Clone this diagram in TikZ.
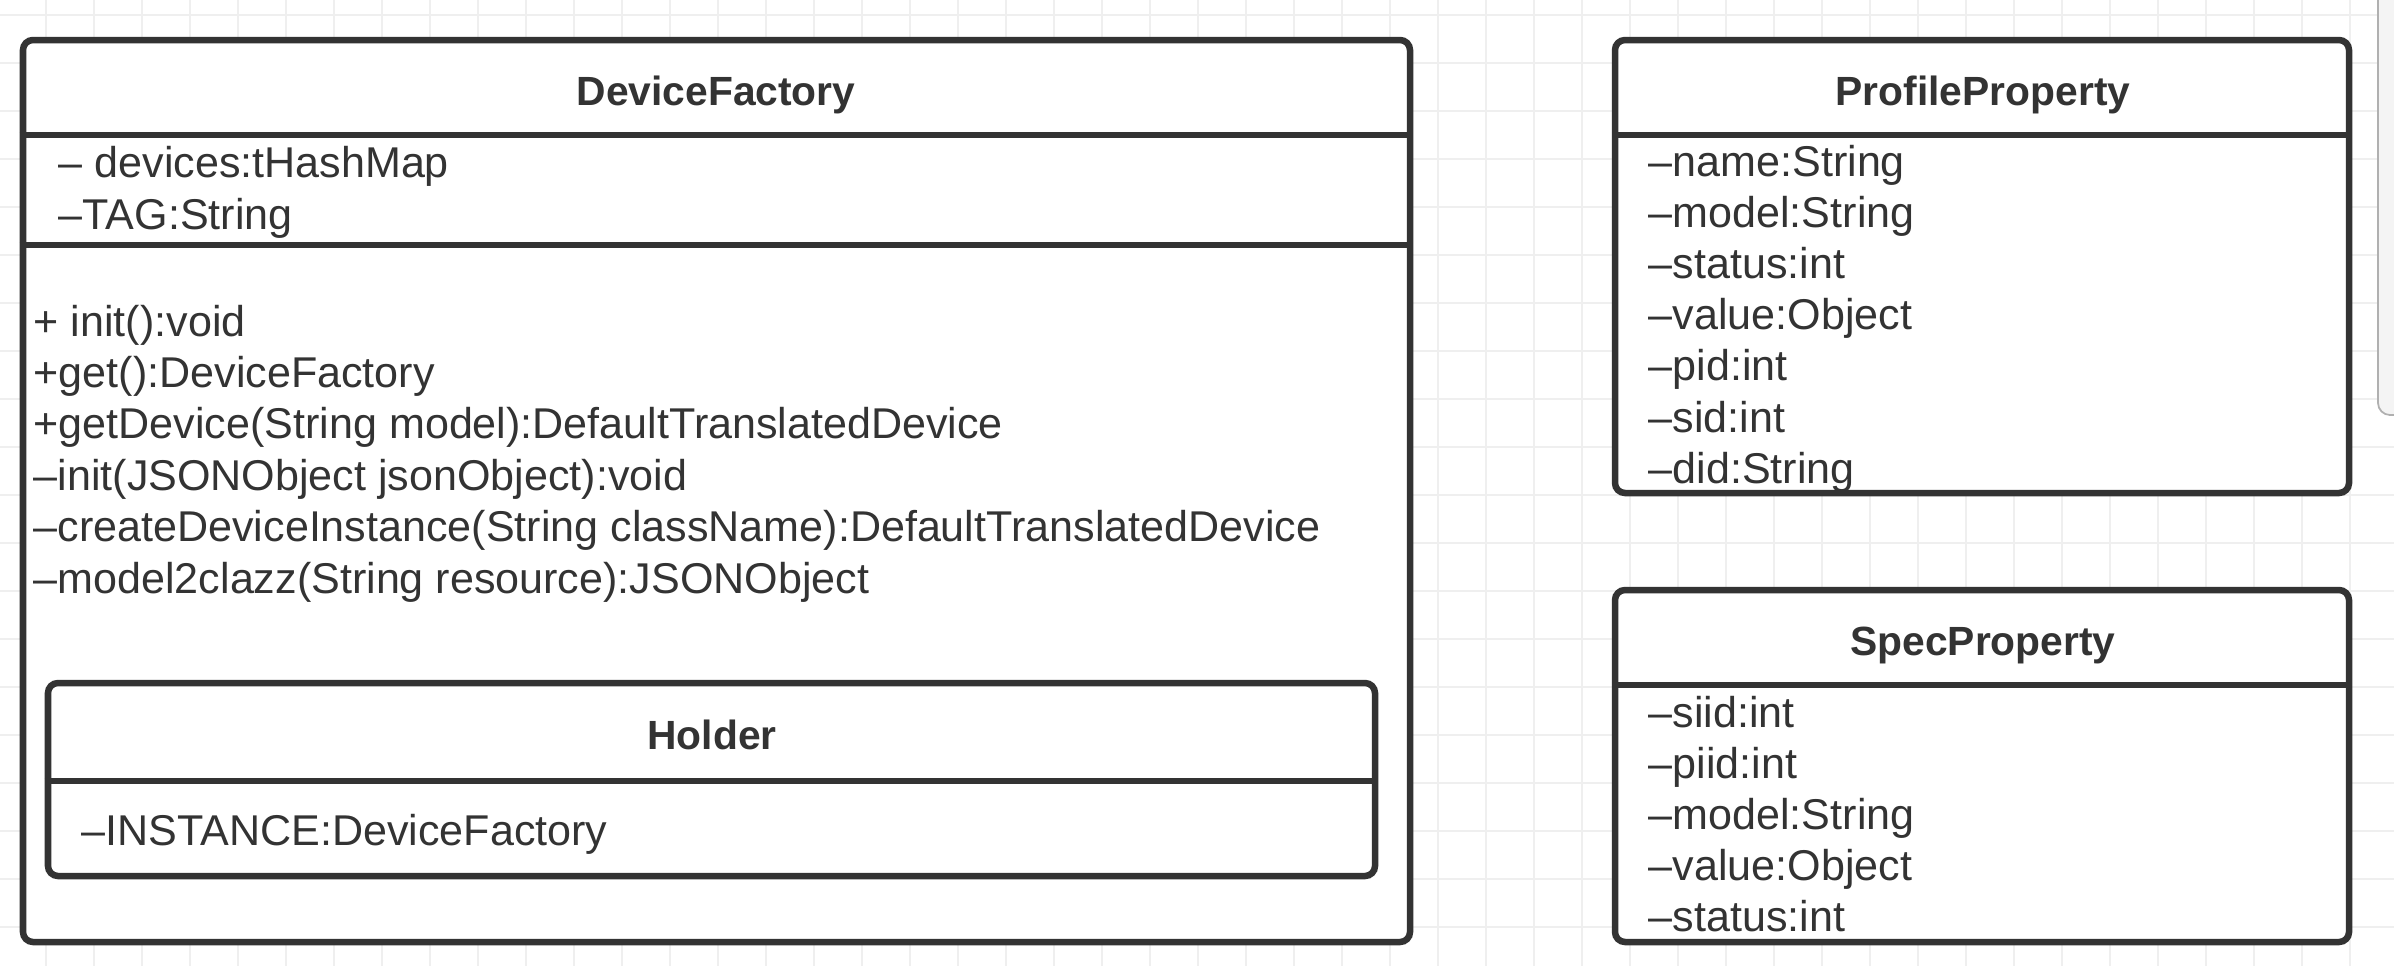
\documentclass[tikz,border=0pt]{standalone}
\usepackage{fontspec}
\setmainfont{Liberation Sans}
\usetikzlibrary{
    fit,
    calc
}
\definecolor{umlink}{HTML}{333333}
\definecolor{gridline}{HTML}{EFEFEF}
\definecolor{scrollfill}{HTML}{F4F4F4}
\definecolor{scrolledge}{HTML}{B0B0B0}
\tikzset {
    grid line/.style = {draw = gridline, line width = 0.6pt},
    class box/.style = {draw = umlink, line width = 1.85pt, rounded corners = 1mm,
        fill = white, inner sep = 0pt},
    divider/.style = {draw = umlink, line width = 1.85pt},
    class title/.style = {anchor = base, inner sep = 0pt, text = umlink,
        font = \bfseries\fontsize{11.6}{14}\selectfont},
    member/.style = {anchor = base west, inner sep = 0pt, text = umlink,
        font = \fontsize{12.25}{14.5}\selectfont},
    scroll bar/.style = {draw = scrolledge, fill = scrollfill, line width = 0.5pt,
        rounded corners = 1.2mm}
}
\begin{document}
\begin{tikzpicture}[x = 0.01cm, y = -0.01cm]
    \useasboundingbox (0, 0) rectangle (2394, 966);
    \clip (0, 0) rectangle (2394, 966);
    % background grid
    \foreach \gx in {46, 94, ..., 2400}
        \draw [grid line] (\gx, 0) -- (\gx, 966);
    \foreach \gy in {15, 63, ..., 970}
        \draw [grid line] (0, \gy) -- (2394, \gy);
    \draw [scroll bar] (2378, -20) rectangle (2430, 415);

    % DeviceFactory
    \node (df) [class box, fit = {(23, 40) (1410, 942)}] {};
    \draw [divider] (df.west |- 0, 135) -- (df.east |- 0, 135);
    \draw [divider] (df.west |- 0, 245) -- (df.east |- 0, 245);
    \node (df title) [class title] at (716, 105) {DeviceFactory};
    \node (df a1) [member] at (58, 177) {– devices:tHashMap};
    \node (df a2) [member] at (58, 229) {–TAG:String};
    \foreach \txt [count = \i] in {
        {+ init():void},
        {+get():DeviceFactory},
        {+getDevice(String model):DefaultTranslatedDevice},
        {–init(JSONObject jsonObject):void},
        {–createDeviceInstance(String className):DefaultTranslatedDevice},
        {–model2clazz(String resource):JSONObject}}
        \node (df m\i) [member] at (33, 336 + 51.4 * \i - 51.4) {\txt};

    % Holder
    \node (holder) [class box, fit = {(48, 683) (1375, 876)}] {};
    \draw [divider] (holder.west |- 0, 781) -- (holder.east |- 0, 781);
    \node (holder title) [class title] at (712, 749) {Holder};
    \node (holder a1) [member] at (81, 845) {–INSTANCE:DeviceFactory};

    % ProfileProperty
    \node (pp) [class box, fit = {(1615, 40) (2349, 493)}] {};
    \draw [divider] (pp.west |- 0, 135) -- (pp.east |- 0, 135);
    \node (pp title) [class title] at (1983, 105) {ProfileProperty};
    \foreach \txt [count = \i] in {
        –name:String, –model:String, –status:int, –value:Object,
        –pid:int, –sid:int, –did:String}
        \node (pp a\i) [member] at (1648, 176 + 51.2 * \i - 51.2) {\txt};

    % SpecProperty
    \node (sp) [class box, fit = {(1615, 590) (2349, 942)}] {};
    \draw [divider] (sp.west |- 0, 685) -- (sp.east |- 0, 685);
    \node (sp title) [class title] at (1983, 655) {SpecProperty};
    \foreach \txt [count = \i] in {
        –siid:int, –piid:int, –model:String, –value:Object, –status:int}
        \node (sp a\i) [member] at (1648, 727 + 51.2 * \i - 51.2) {\txt};
\end{tikzpicture}
\end{document}
